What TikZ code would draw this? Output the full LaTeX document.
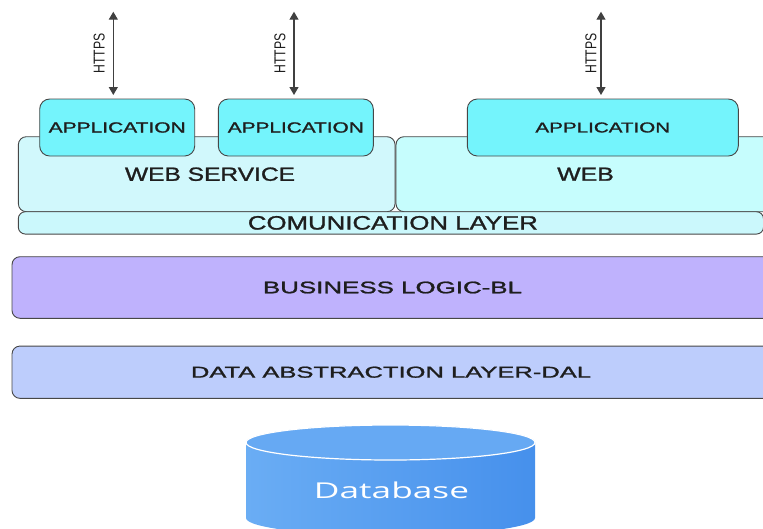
\documentclass[tikz,border=0pt]{standalone}
\usepackage{fontspec}
\setmainfont{Liberation Sans}
\newfontfamily\heavyfont{Liberation Sans}[FakeBold=1.2]
\newfontfamily\dbfont{Open Sans}
\usetikzlibrary{arrows.meta}

\definecolor{edge}{HTML}{474747}
\definecolor{ink}{HTML}{1E1E1E}
\definecolor{appfill}{HTML}{74F4FC}
\definecolor{wsfill}{HTML}{D1F8FC}
\definecolor{webfill}{HTML}{C6FDFD}
\definecolor{commfill}{HTML}{CBF8FC}
\definecolor{blfill}{HTML}{BFB2FD}
\definecolor{dalfill}{HTML}{BDCDFC}
\definecolor{dbA}{HTML}{6AADF4}
\definecolor{dbB}{HTML}{4690EC}
\definecolor{dbtop}{HTML}{66A9F3}

% text stretched to an exact width and cap height
\newcommand\fittext[3]{\resizebox{#1pt}{#2pt}{#3}}
\newcommand\layertext[3]{\resizebox{#1pt}{#2pt}{\heavyfont #3}}

\begin{document}
\begin{tikzpicture}[x=1pt,y=-1pt,
  panel/.style={draw=edge, line width=0.9pt, rounded corners=8pt,
    inner sep=0pt, outer sep=0pt, text=ink},
  appbox/.style={panel, fill=appfill, rounded corners=10pt,
    minimum height=57pt},
  link/.style={draw=ink!85, line width=1.2pt,
    {Triangle[width=9pt,length=8pt]}-{Triangle[width=9pt,length=8pt]},
    shorten >=4pt},
  proto/.style={text=ink, inner sep=0pt, rotate=90}
]
\useasboundingbox (0,0) rectangle (763,528);

% service tier
\node[panel, fill=wsfill, minimum width=376.7pt, minimum height=75pt]
  (ws) at (206.7,174.2) {\hspace*{6.6pt}\layertext{170}{13.3}{WEB SERVICE}};
\node[panel, fill=webfill, minimum width=379pt, minimum height=75pt]
  (web) at (585.5,174.2) {\layertext{56.6}{13}{WEB}};
\node[panel, fill=commfill, rounded corners=7pt, minimum width=745.2pt,
  minimum height=22.3pt]
  (comm) at (390.9,222.9) {\hspace*{4pt}\layertext{290}{13.5}{COMUNICATION LAYER}};

% lower layers
\node[panel, fill=blfill, minimum width=761pt, minimum height=61.6pt]
  (bl) at (392.5,287.5) {\layertext{259}{11.7}{BUSINESS LOGIC-BL}};
\node[panel, fill=dalfill, minimum width=761pt, minimum height=52.3pt]
  (dal) at (392.5,372.2) {\hspace*{-3pt}\layertext{400}{11}{DATA ABSTRACTION LAYER-DAL}};

% applications
\node[appbox, minimum width=155pt] (app1) at (117.2,127.5)
  {\layertext{137}{10.3}{APPLICATION}};
\node[appbox, minimum width=155pt] (app2) at (295.8,127.5)
  {\layertext{136}{10.3}{APPLICATION}};
\node[appbox, minimum width=271pt] (app3) at (602.8,127.5)
  {\layertext{134.7}{10}{APPLICATION}};

% HTTPS links
\coordinate (t1) at (113.3,11.7);
\coordinate (t2) at (294,11.7);
\coordinate (t3) at (601,11.7);
\draw[link] (t1) -- (t1 |- app1.north)
  node[midway, xshift=-14pt, yshift=2pt, proto] (h1) {\fittext{40}{11}{HTTPS}};
\draw[link] (t2) -- (t2 |- app2.north)
  node[midway, xshift=-14pt, yshift=2pt, proto] (h2) {\fittext{40}{11}{HTTPS}};
\draw[link] (t3) -- (t3 |- app3.north)
  node[midway, xshift=-10pt, yshift=2pt, proto] (h3) {\fittext{40}{11}{HTTPS}};

% database cylinder
\shade[left color=dbA, right color=dbB]
  (246,442.5) -- (246,518)
  arc[start angle=180, end angle=360, x radius=144.5pt, y radius=17.5pt]
  -- (535,442.5)
  arc[start angle=0, end angle=180, x radius=144.5pt, y radius=17.5pt]
  -- cycle;
\draw[white, line width=1.2pt, fill=dbtop]
  (390.5,442.5) ellipse[x radius=144.5pt, y radius=17.5pt];
\node[text=white, inner sep=0pt] (db) at (391.5,490)
  {\dbfont\fittext{155}{16.6}{Database}};
\end{tikzpicture}
\end{document}
